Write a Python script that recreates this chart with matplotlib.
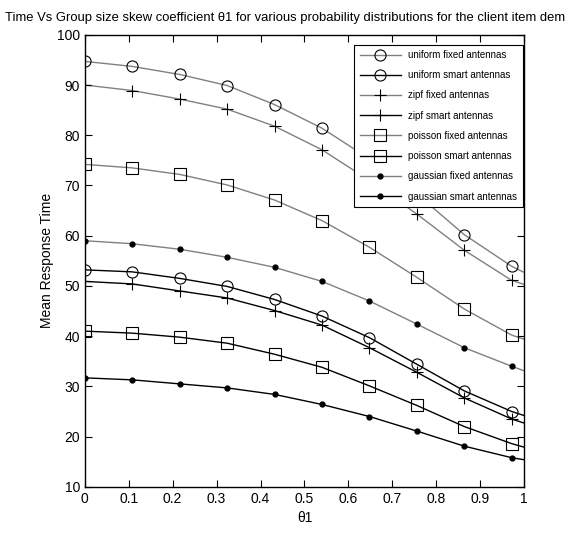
import matplotlib
matplotlib.use("Agg")
import matplotlib.pyplot as plt

plt.rcParams['font.family'] = ['Liberation Sans', 'DejaVu Sans']

theta = [0, 0.108, 0.216, 0.324, 0.432, 0.54, 0.648, 0.756, 0.864, 0.972, 1.0]

uniform_fixed = [94.7, 93.7, 92.1, 89.9, 86.1, 81.4, 75.3, 68.3, 60.2, 53.9, 52.7]
uniform_smart = [53.2, 52.8, 51.5, 49.9, 47.3, 44.0, 39.7, 34.4, 29.1, 25.0, 24.2]
zipf_fixed = [90.0, 88.9, 87.2, 85.2, 81.8, 77.1, 71.0, 64.3, 57.1, 51.1, 50.3]
zipf_smart = [50.9, 50.4, 49.0, 47.6, 45.1, 42.2, 37.7, 32.8, 27.7, 23.5, 22.7]
poisson_fixed = [74.2, 73.5, 72.2, 70.1, 67.1, 63.0, 57.7, 51.7, 45.4, 40.2, 39.4]
poisson_smart = [41.0, 40.6, 39.8, 38.6, 36.4, 33.8, 30.1, 26.2, 22.0, 18.6, 17.9]
gaussian_fixed = [59.0, 58.4, 57.3, 55.7, 53.7, 50.9, 47.0, 42.4, 37.7, 34.0, 33.1]
gaussian_smart = [31.7, 31.3, 30.5, 29.7, 28.4, 26.4, 24.0, 21.1, 18.1, 15.8, 15.4]

series = [
    ('uniform fixed antennas', uniform_fixed, '#808080', 'o'),
    ('uniform smart antennas', uniform_smart, 'black', 'o'),
    ('zipf fixed antennas', zipf_fixed, '#808080', '+'),
    ('zipf smart antennas', zipf_smart, 'black', '+'),
    ('poisson fixed antennas', poisson_fixed, '#808080', 's'),
    ('poisson smart antennas', poisson_smart, 'black', 's'),
    ('gaussian fixed antennas', gaussian_fixed, '#808080', '.'),
    ('gaussian smart antennas', gaussian_smart, 'black', '.'),
]

fig = plt.figure(figsize=(5.81, 5.35), dpi=100)
ax = fig.add_axes([0.146, 0.09, 0.756, 0.845])

for name, vals, col, mk in series:
    if mk in ('o', 's'):
        ax.plot(theta, vals, color=col, lw=1.0, marker=mk, ms=8, mfc='none',
                mec='black', mew=0.8, markevery=list(range(10)), label=name)
    elif mk == '+':
        ax.plot(theta, vals, color=col, lw=1.0, marker=mk, ms=9,
                mec='black', mew=0.8, markevery=list(range(10)), label=name)
    else:
        ax.plot(theta, vals, color=col, lw=1.0, marker='o', ms=3.5, mfc='black',
                mec='black', markevery=list(range(10)), label=name)

ax.set_xlim(0, 1)
ax.set_ylim(10, 100)
ax.set_xticks([0, 0.1, 0.2, 0.3, 0.4, 0.5, 0.6, 0.7, 0.8, 0.9, 1])
ax.set_xticklabels(['0', '0.1', '0.2', '0.3', '0.4', '0.5', '0.6', '0.7', '0.8', '0.9', '1'])
ax.set_yticks(range(10, 101, 10))
ax.tick_params(direction='in', top=True, right=True, labelsize=10, length=5, width=0.8)
for sp in ax.spines.values():
    sp.set_linewidth(1.0)

ax.set_xlabel('θ1', fontsize=10)
ax.set_ylabel('Mean Response Time', fontsize=10, labelpad=2)

fig.text(0.009, 0.966, 'Time Vs Group size skew coefficient θ1 for various probability '
         'distributions for the client item dem', fontsize=9.4, ha='left', va='center')

leg = ax.legend(loc='upper right', bbox_to_anchor=(0.997, 0.978), borderaxespad=0,
                fontsize=7, frameon=True, fancybox=False, edgecolor='black',
                handlelength=4.2, labelspacing=1.05, borderpad=0.55, framealpha=1)
leg.get_frame().set_linewidth(0.8)

fig.savefig('out.png', dpi=100)
